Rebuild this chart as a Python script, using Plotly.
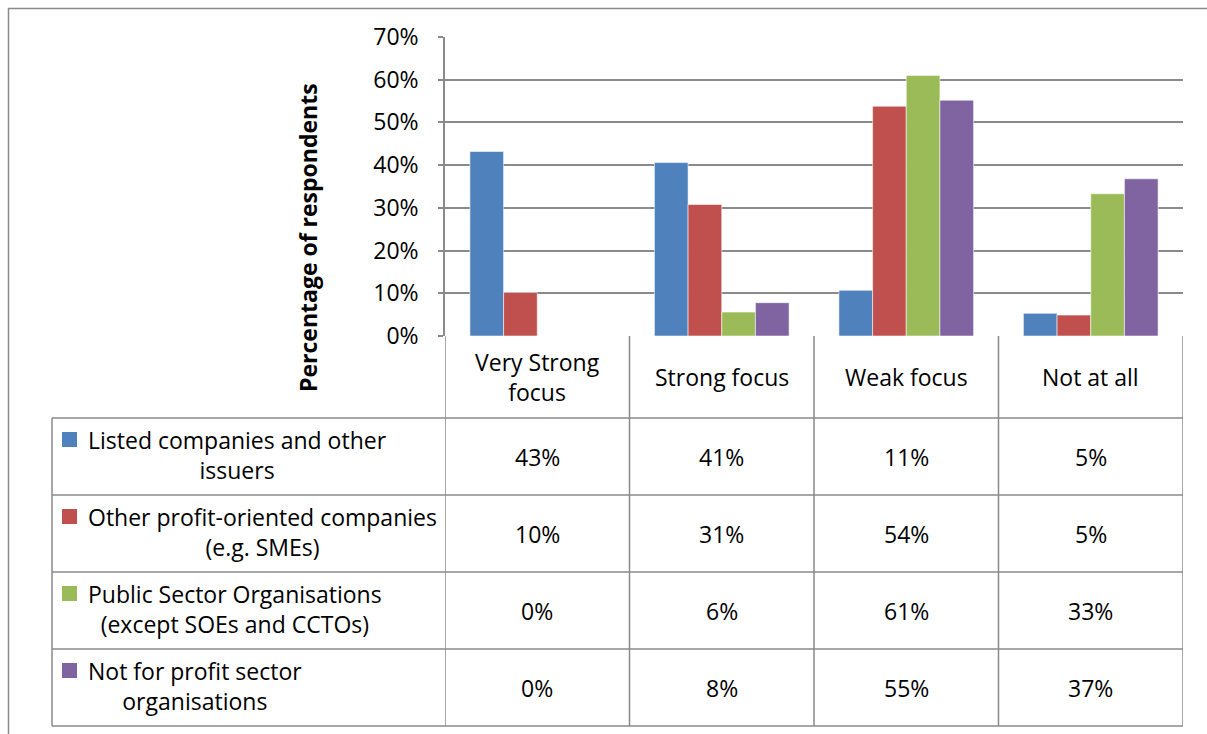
import plotly.graph_objects as go

# ---------------- data ----------------
categories = ["Very Strong focus", "Strong focus", "Weak focus", "Not at all"]
category_labels = ["Very Strong<br>focus", "Strong focus", "Weak focus", "Not at all"]

series_names = [
    "Listed companies and other<br>issuers",
    "Other profit-oriented companies<br>(e.g. SMEs)",
    "Public Sector Organisations<br>(except SOEs and CCTOs)",
    "Not for profit sector<br>organisations",
]
listed = [43.2, 40.6, 10.7, 5.3]
other_profit = [10.2, 30.8, 53.8, 4.9]
public_sector = [0.0, 5.6, 61.0, 33.3]
not_for_profit = [0.0, 7.8, 55.2, 36.8]
series_values = [listed, other_profit, public_sector, not_for_profit]

colors = ["#4F81BD", "#C0504D", "#9BBB59", "#8064A2"]
y_ticks = [0, 10, 20, 30, 40, 50, 60, 70]
y_title = "Percentage of respondents"

# ---------------- layout geometry (pixels) ----------------
W, H = 1207, 734
L, R, T, B = 445, 24, 37, 398
PW, PH = W - L - R, H - T - B
FONT = "Open Sans, Calibri, Carlito, sans-serif"
FS = 23
GRID = "#8a8a8a"


def fx(px):
    return (px - L) / PW


def fy(py):
    return (H - B - py) / PH


row_edges = [336, 418, 495, 572, 649, 726]
table_left, table_right = 52, 1183

fig = go.Figure()
for name, vals, col in zip(series_names, series_values, colors):
    fig.add_trace(go.Bar(
        x=categories, y=[v / 100 for v in vals], name=name.replace("<br>", " "),
        marker=dict(color=col, line=dict(color="rgba(255,255,255,0.55)", width=1)),
        showlegend=False,
    ))

shapes = []
# horizontal table lines
for ry in row_edges[1:]:
    shapes.append(dict(type="line", xref="paper", yref="paper",
                       x0=fx(table_left), x1=fx(table_right), y0=fy(ry), y1=fy(ry),
                       line=dict(color=GRID, width=1.5)))
# vertical lines at category boundaries (data coords)
for k in range(len(categories) + 1):
    shapes.append(dict(type="line", xref="x", yref="paper",
                       x0=k - 0.5, x1=k - 0.5, y0=fy(row_edges[-1]), y1=0,
                       line=dict(color=GRID, width=1.5)))
# table left border
shapes.append(dict(type="line", xref="paper", yref="paper",
                   x0=fx(table_left), x1=fx(table_left),
                   y0=fy(row_edges[1]), y1=fy(row_edges[-1]),
                   line=dict(color=GRID, width=1.5)))
# outer chart border
shapes.append(dict(type="rect", xref="paper", yref="paper",
                   x0=fx(8.5), x1=fx(1215), y0=fy(745), y1=fy(8.5),
                   line=dict(color=GRID, width=1.5), fillcolor="rgba(0,0,0,0)", layer="below"))

annotations = []
# header labels
for i, lab in enumerate(category_labels):
    annotations.append(dict(x=i, xref="x", y=fy((row_edges[0] + row_edges[1]) / 2), yref="paper",
                            text=lab, showarrow=False, align="center",
                            xanchor="center", yanchor="middle",
                            font=dict(family=FONT, size=FS, color="#000")))
# rows
for r, (name, vals, col) in enumerate(zip(series_names, series_values, colors)):
    cy = (row_edges[r + 1] + row_edges[r + 2]) / 2
    annotations.append(dict(x=fx(86), xref="paper", y=fy(cy - 1.5), yref="paper",
                            text=name, showarrow=False, align="center",
                            xanchor="left", yanchor="middle",
                            font=dict(family=FONT, size=FS, color="#000")))
    first_line_y = cy - 17
    shapes.append(dict(type="rect", xref="paper", yref="paper",
                       x0=fx(62), x1=fx(77), y0=fy(first_line_y + 7.5), y1=fy(first_line_y - 7.5),
                       fillcolor=col, line=dict(width=0)))
    for i, v in enumerate(vals):
        annotations.append(dict(x=i, xref="x", y=fy(cy), yref="paper",
                                text=f"{round(v):d}%", showarrow=False,
                                xanchor="center", yanchor="middle",
                                font=dict(family=FONT, size=FS, color="#000")))
# y axis title
annotations.append(dict(x=fx(308), xref="paper", y=fy(238), yref="paper",
                        text=f"<b>{y_title}</b>", textangle=-90, showarrow=False,
                        xanchor="center", yanchor="middle",
                        font=dict(family=FONT, size=FS, color="#000")))

fig.update_layout(
    width=W, height=H,
    margin=dict(l=L, r=R, t=T, b=B, pad=0),
    paper_bgcolor="white", plot_bgcolor="white",
    barmode="group", bargap=0.27, bargroupgap=0,
    shapes=shapes, annotations=annotations,
    font=dict(family=FONT, size=FS, color="#000"),
    xaxis=dict(range=[-0.5, len(categories) - 0.5], showticklabels=False,
               showgrid=False, zeroline=False, showline=False, ticks=""),
    yaxis=dict(range=[0, 0.70], tickvals=[t / 100 for t in y_ticks],
               ticktext=[f"{t}%" for t in y_ticks],
               showgrid=True, gridcolor=GRID, gridwidth=1.5,
               zeroline=False, showline=True, linecolor=GRID, linewidth=1.5,
               ticks="outside", ticklen=5, tickcolor=GRID, tickwidth=1.5,
               ticklabelstandoff=15,
               tickfont=dict(family=FONT, size=FS, color="#000")),
)

fig.write_html("out.html")
